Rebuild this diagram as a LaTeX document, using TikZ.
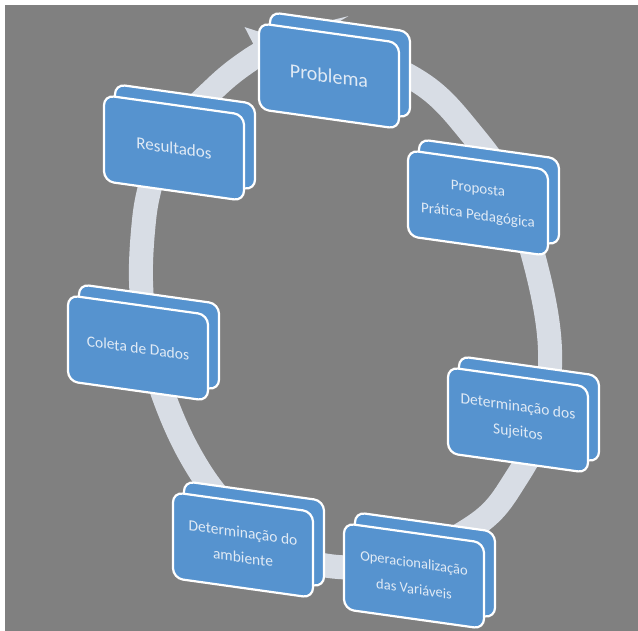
\documentclass[tikz,border=0pt]{standalone}
\usepackage{fontspec}
\setmainfont{Carlito}
\usetikzlibrary{shapes,arrows.meta,positioning,calc}

\definecolor{fundo}{RGB}{128,128,128}
\definecolor{caixa}{RGB}{86,147,207}
\definecolor{anel}{RGB}{216,221,229}
\definecolor{letra}{RGB}{224,234,245}

\begin{document}
\begin{tikzpicture}[x=1pt, y=1pt,
  face/.style={draw=white, line width=2.2pt, fill=caixa, rounded corners=10pt,
    minimum width=140pt, minimum height=86pt, inner sep=2pt,
    yslant=-0.14, transform shape,
    text=letra, align=center, font=\fontsize{15.5}{25}\selectfont},
  anelseta/.style={draw=anel, line width=24pt,
    -{Triangle[length=30pt, width=58pt]}}]
  \useasboundingbox (0,0) rectangle (638,631);
  \fill[white] (0,0) rectangle (638,631);
  \fill[fundo] (5,0) rectangle (638,626);

  \draw[anelseta] plot[smooth, tension=0.6] coordinates {
    (300,581) (360,576) (425,545) (470,499) (510,441) (537,361)
    (550,281) (542,206) (515,151) (480,109) (410,73) (338,64)
    (272,84) (222,130) (188,180) (162,240) (146,300) (141,350)
    (143,400) (149,440) (165,490) (215,543) (250,571) (285,591)};

  \node[face] (problema-f) at (340,566) {};
  \node[face, font=\fontsize{20}{24}\selectfont] (problema) at (329,555) {Problema};

  \node[face] (proposta-f) at (489,439) {};
  \node[face, font=\fontsize{15}{27}\selectfont] (proposta) at (478,428) {Proposta\\Prática Pedagógica};

  \node[face] (sujeitos-f) at (529,222) {};
  \node[face] (sujeitos) at (518,211) {Determinação dos\\Sujeitos};

  \node[face] (variaveis-f) at (425,66) {};
  \node[face, font=\fontsize{14.5}{26}\selectfont] (variaveis) at (414,55) {Operacionalização\\das Variáveis};

  \node[face] (ambiente-f) at (254,97) {};
  \node[face] (ambiente) at (243,86) {Determinação do\\ambiente};

  \node[face] (coleta-f) at (149,294) {};
  \node[face] (coleta) at (138,283) {Coleta de Dados};

  \node[face] (resultados-f) at (185,494) {};
  \node[face, font=\fontsize{17}{22}\selectfont] (resultados) at (174,483) {Resultados};
\end{tikzpicture}
\end{document}
